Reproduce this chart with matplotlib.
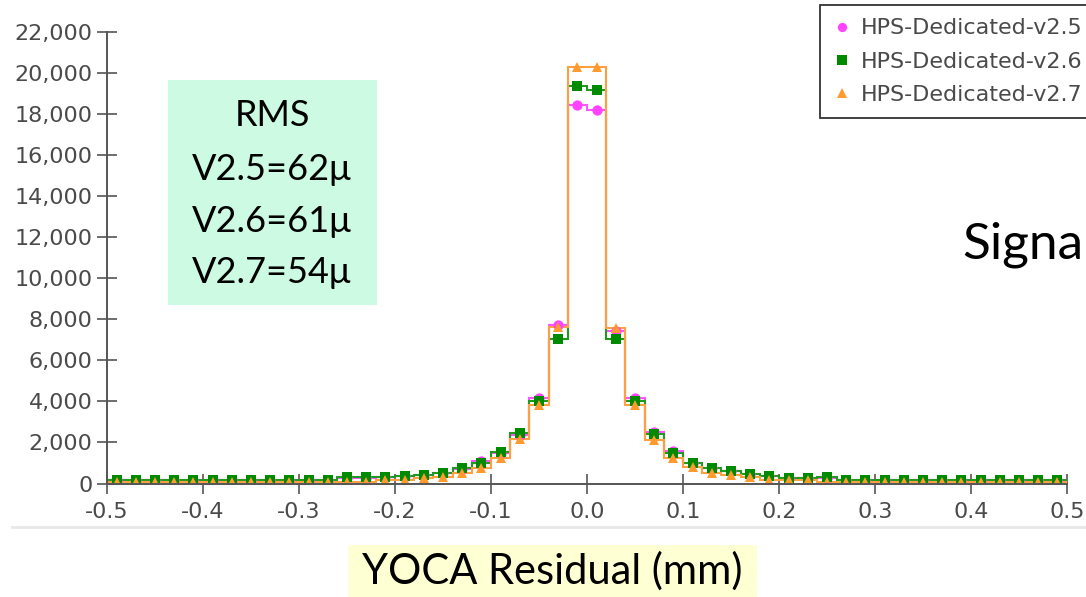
import numpy as np
import matplotlib
matplotlib.use("Agg")
import matplotlib.pyplot as plt
from matplotlib.lines import Line2D
from matplotlib.patches import Rectangle
from matplotlib.ticker import StrMethodFormatter, FixedLocator

plt.rcParams['axes.unicode_minus'] = False

# ---- data ----
x_min, x_max, n_bins = -0.5, 0.5, 50
series_names = ["HPS-Dedicated-v2.5", "HPS-Dedicated-v2.6", "HPS-Dedicated-v2.7"]

v25 = [180, 180, 180, 180, 180, 180, 180, 180, 180, 180,
       180, 190, 290, 290, 300, 350, 420, 530, 720, 1100,
       1480, 2380, 4150, 7750, 18450, 18200, 7450, 4150, 2500, 1600,
       1000, 780, 600, 450, 370, 270, 260, 290, 180, 180,
       180, 180, 180, 180, 180, 180, 180, 180, 180, 180]
v26 = [180, 180, 180, 180, 180, 180, 180, 180, 180, 180,
       180, 190, 300, 300, 300, 350, 420, 520, 750, 1000,
       1550, 2450, 4000, 7050, 19400, 19200, 7050, 4000, 2400, 1500,
       980, 770, 620, 460, 380, 280, 270, 300, 190, 180,
       180, 180, 180, 180, 180, 180, 180, 180, 180, 180]
v27 = [70, 70, 70, 70, 70, 70, 70, 70, 70, 70,
       70, 70, 70, 80, 150, 180, 250, 330, 520, 780,
       1230, 2150, 3850, 7650, 20300, 20300, 7600, 3850, 2100, 1250,
       790, 530, 400, 320, 180, 160, 150, 80, 70, 70,
       70, 70, 70, 70, 70, 70, 70, 70, 70, 70]

y_ticks = [0, 2000, 4000, 6000, 8000, 10000, 12000, 14000, 16000, 18000, 20000, 22000]
x_ticks = [-0.5, -0.4, -0.3, -0.2, -0.1, 0.0, 0.1, 0.2, 0.3, 0.4, 0.5]
x_tick_labels = ["-0.5", "-0.4", "-0.3", "-0.2", "-0.1", "0.0", "0.1", "0.2", "0.3", "0.4", "0.5"]

rms_lines = ["RMS", "V2.5=62\u03bc", "V2.6=61\u03bc", "V2.7=54\u03bc"]
xlabel_text = "YOCA Residual (mm)"
side_text = "Signa"

# ---- styles ----
colors = ["#ff44ff", "#008a00", "#ff9a2e"]
line_colors = ["#ff55ff", "#1f9a1f", "#ffa040"]
markers = ["o", "s", "^"]
msizes = [7.4, 7.8, 7.6]
axis_col = "#555555"
tick_col = "#4a4a4a"

W, H = 1086, 597
fig = plt.figure(figsize=(W / 100, H / 100), dpi=100)
fig.patch.set_facecolor("white")

def fx(px):
    return px / W

def fy(py):
    return 1 - py / H

ax = fig.add_axes([fx(107), fy(483.5), fx(1067) - fx(107), fy(32.3) - fy(483.5)])

edges = np.linspace(x_min, x_max, n_bins + 1)
centers = 0.5 * (edges[:-1] + edges[1:])

all_vals = [v25, v26, v27]
for vals, lc in zip(all_vals, line_colors):
    ax.stairs(vals, edges, color=lc, linewidth=1.5, baseline=0, zorder=2)
for vals, c, m, ms, name in zip(all_vals, colors, markers, msizes, series_names):
    ax.plot(centers, vals, linestyle="none", marker=m, markersize=ms,
            color=c, markeredgewidth=0, label=name, zorder=3)

ax.set_xlim(x_min, x_max)
ax.set_ylim(0, 22000)
for s in ["top", "right"]:
    ax.spines[s].set_visible(False)
for s in ["left", "bottom"]:
    ax.spines[s].set_color(axis_col)
    ax.spines[s].set_linewidth(1.4)
    ax.spines[s].set_zorder(4)

ax.xaxis.set_major_locator(FixedLocator(x_ticks))
ax.set_xticklabels(x_tick_labels)
ax.yaxis.set_major_locator(FixedLocator(y_ticks))
ax.yaxis.set_major_formatter(StrMethodFormatter("{x:,.0f}"))
ax.tick_params(axis="both", direction="inout", length=15, width=1.2,
               color=axis_col, labelcolor=tick_col, labelsize=16)
ax.tick_params(axis="x", pad=6)
ax.tick_params(axis="y", pad=3)
for lab in ax.get_xticklabels() + ax.get_yticklabels():
    lab.set_family("DejaVu Sans")

leg = ax.legend(loc="upper left", bbox_to_anchor=(fx(820), fy(5)),
                bbox_transform=fig.transFigure, frameon=True, fancybox=False,
                fontsize=16, handlelength=0.8, handletextpad=0.45,
                labelspacing=0.6, borderpad=0.6, borderaxespad=0,
                markerscale=0.9)
leg.get_frame().set_edgecolor("black")
leg.get_frame().set_linewidth(1.3)
for t in leg.get_texts():
    t.set_color(tick_col)

# RMS box
fig.patches.append(Rectangle((fx(168), fy(305)), fx(377) - fx(168), fy(80) - fy(305),
                             transform=fig.transFigure, facecolor="#cdfae2",
                             edgecolor="none", zorder=0))
rms_y = [115, 170, 221, 272]
for txt, yy in zip(rms_lines, rms_y):
    fig.text(fx(272), fy(yy), txt, ha="center", va="center", fontsize=26,
             family="Lato", color="black")

# faint slide line
fig.add_artist(Line2D([fx(12), 1.0], [fy(527), fy(527)], transform=fig.transFigure,
                      color="#e8e8e8", linewidth=2))

# x label box
fig.patches.append(Rectangle((fx(348), 0), fx(757) - fx(348), fy(545),
                             transform=fig.transFigure, facecolor="#ffffd4",
                             edgecolor="none", zorder=0))
fig.text(fx(552), fy(571), xlabel_text, ha="center", va="center", fontsize=30,
         family="Lato", color="black")

fig.text(fx(962), fy(245), side_text, ha="left", va="center", fontsize=37,
         family="Lato", color="black")

fig.savefig("out.png", dpi=100)
